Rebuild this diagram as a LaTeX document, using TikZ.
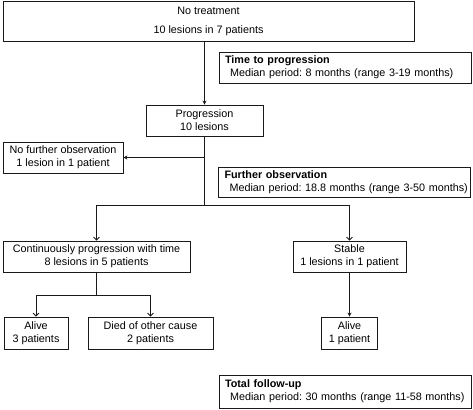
\documentclass[tikz,border=0pt]{standalone}
\usepackage{fontspec}
\setmainfont{Liberation Sans}
\usepackage{tikz}
\usetikzlibrary{arrows.meta}
\definecolor{line}{HTML}{1A1A1A}
\definecolor{ink}{HTML}{000000}
\tikzset{
  flowbox/.style={draw=line, line width=0.8pt, text=ink, align=center, inner sep=2pt},
  infobox/.style={draw=line, line width=0.8pt, text=ink, align=left, text width=246pt, inner xsep=3pt, inner ysep=2pt},
  link/.style={draw=line, line width=0.8pt},
  arrF/.style={link, -{Stealth[length=4pt,width=4pt]}},
  arrO/.style={link, -{Straight Barb[length=3pt,width=6pt]}}
}
\frenchspacing

\begin{document}
\begin{tikzpicture}[x=1pt, y=-1pt, every node/.style={font=\fontsize{10.8}{13}\selectfont}]
  \useasboundingbox (0,0) rectangle (473,409);

  % Boxes
  \node[flowbox, minimum width=411pt, minimum height=40pt] (top) at (208.5,21) {No treatment\\[6pt]10 lesions in 7 patients};
  \node[infobox, minimum height=31pt] (ttp) at (345,67.5) {\hspace*{3pt}\textbf{Time to progression}\\\mbox{\hspace*{8pt}Median period: 8 months (range 3-19 months)}};
  \node[flowbox, minimum width=117pt, minimum height=31pt] (prog) at (204.5,120.5) {Progression\\10 lesions};
  \node[flowbox, minimum width=120pt, minimum height=31pt] (nofurther) at (63,157.5) {No further observation\\1 lesion in 1 patient};
  \node[infobox, minimum height=30pt] (further) at (344.5,182) {\hspace*{3pt}\textbf{Further observation}\\\mbox{\hspace*{8pt}Median period: 18.8 months (range 3-50 months)}};
  \node[flowbox, minimum width=187pt, minimum height=31pt] (cont) at (96.5,256.5) {Continuously progression with time\\8 lesions in 5 patients};
  \node[flowbox, minimum width=113pt, minimum height=31pt] (stable) at (349.5,256.5) {Stable\\1 lesions in 1 patient};
  \node[flowbox, minimum width=64pt, minimum height=32pt] (alive3) at (36,333) {Alive\\3 patients};
  \node[flowbox, minimum width=125pt, minimum height=32pt] (died) at (150.5,333) {Died of other cause\\2 patients};
  \node[flowbox, minimum width=56pt, minimum height=32pt] (alive1) at (349.5,333) {Alive\\1 patient};
  \node[infobox, minimum height=33pt] (total) at (345,391.5) {\hspace*{3pt}\textbf{Total follow-up}\\\mbox{\hspace*{8pt}Median period: 30 months (range 11-58 months)}};

  % Branch points
  \coordinate (split) at (204.5,205);
  \coordinate (split2) at (96.5,295);

  % Connectors
  \draw[arrF] (top.south -| prog.north) -- (prog.north);
  \draw[link] (prog.south) -- (split);
  \draw[arrF] (prog.south |- nofurther.east) -- (nofurther.east);
  \draw[link] (cont.north |- split) -- (stable.north |- split);
  \draw[arrO] (cont.north |- split) -- (cont.north);
  \draw[arrO] (stable.north |- split) -- (stable.north);
  \draw[link] (cont.south) -- (split2);
  \draw[link] (alive3.north |- split2) -- (died.north |- split2);
  \draw[arrO] (alive3.north |- split2) -- (alive3.north);
  \draw[arrO] (died.north |- split2) -- (died.north);
  \draw[arrF] (stable.south) -- (alive1.north);
\end{tikzpicture}
\end{document}
